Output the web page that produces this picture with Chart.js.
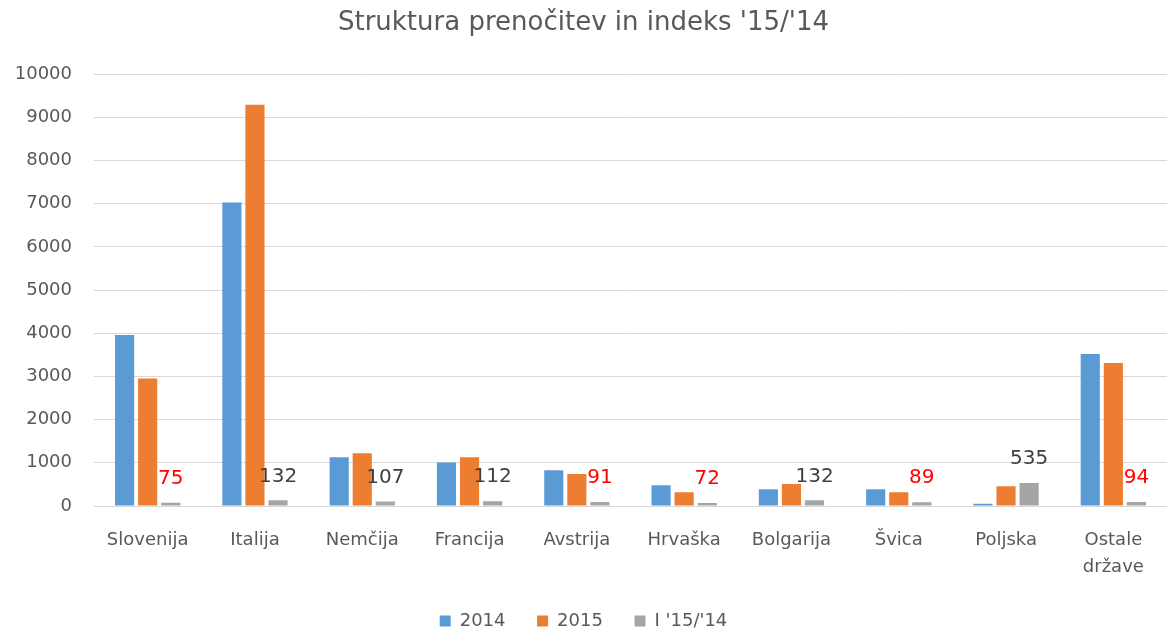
<!DOCTYPE html>
<html>
<head>
<meta charset="utf-8">
<script src="https://cdn.jsdelivr.net/npm/chart.js@4.4.0/dist/chart.umd.min.js"></script>
<style>
  html, body { margin: 0; padding: 0; background: #fff; }
  #wrap { width: 1167px; height: 635px; position: relative; }
</style>
</head>
<body>
<div id="wrap"><canvas id="chart"></canvas></div>
<script>
  'use strict'

  // Data
  const countries = ['Slovenija', 'Italija', 'Nemčija', 'Francija', 'Avstrija', 'Hrvaška', 'Bolgarija', 'Švica', 'Poljska', ['Ostale', 'države']];
  const nights2014 = [3960, 7030, 1130, 1010, 830, 480, 390, 390, 50, 3520];
  const nights2015 = [2950, 9290, 1220, 1130, 740, 320, 510, 320, 460, 3310];
  const index1514 = [75, 132, 107, 112, 91, 72, 132, 89, 535, 94];

  const fontFamily = '"DejaVu Sans", "Open Sans", sans-serif';
  const textColor = '#595959';

  // Draws the index value above the grey bars (red when below 100)
  const indexLabels = {
    id: 'indexLabels',
    afterDatasetsDraw(chart) {
      const meta = chart.getDatasetMeta(2);
      if (meta.hidden) return;
      const ctx = chart.ctx;
      ctx.save();
      ctx.font = '20px ' + fontFamily;
      ctx.textAlign = 'center';
      ctx.textBaseline = 'bottom';
      meta.data.forEach((bar, i) => {
        const v = index1514[i];
        ctx.fillStyle = v < 100 ? '#ff0000' : '#404040';
        ctx.fillText(String(v), bar.x, bar.y - 14);
      });
      ctx.restore();
    }
  };

  new Chart(document.getElementById('chart'), {
    type: 'bar',
    data: {
      labels: countries,
      datasets: [
        { label: '2014', data: nights2014, backgroundColor: '#5b9bd5' },
        { label: '2015', data: nights2015, backgroundColor: '#ed7d31' },
        { label: "I '15/'14", data: index1514, backgroundColor: '#a5a5a5' }
      ]
    },
    options: {
      responsive: true,
      maintainAspectRatio: false,
      animation: false,
      datasets: {
        bar: { categoryPercentage: 0.645, barPercentage: 0.83 }
      },
      layout: { padding: { left: 0, right: 0, top: 0, bottom: -5 } },
      plugins: {
        title: {
          display: true,
          text: "Struktura prenočitev in indeks '15/'14",
          color: textColor,
          font: { family: fontFamily, size: 26, weight: 'normal' },
          padding: { top: 8, bottom: 35 }
        },
        legend: {
          position: 'bottom',
          labels: {
            color: textColor,
            font: { family: fontFamily, size: 18 },
            boxWidth: 11,
            boxHeight: 11,
            padding: 3,
            // extra trailing space widens the gap between legend entries
            generateLabels(chart) {
              const items = Chart.defaults.plugins.legend.labels.generateLabels(chart);
              items.forEach((it, i) => {
                if (i < items.length - 1) it.text = it.text + '     ';
              });
              return items;
            }
          }
        },
        tooltip: { enabled: false }
      },
      scales: {
        x: {
          grid: { display: false },
          border: { color: '#d9d9d9' },
          ticks: { color: textColor, font: { family: fontFamily, size: 18, lineHeight: 1.5 }, maxRotation: 0, padding: 13 },
          afterFit(scale) { scale.height += 15; }
        },
        y: {
          min: 0,
          max: 10000,
          ticks: {
            stepSize: 1000,
            color: textColor,
            font: { family: fontFamily, size: 18 },
            padding: 22,
            callback: v => String(v)
          },
          grid: { color: '#d9d9d9', drawTicks: false },
          border: { display: false },
          afterFit(scale) { scale.width = 94; }
        }
      }
    },
    plugins: [indexLabels]
  });
</script>
</body>
</html>
